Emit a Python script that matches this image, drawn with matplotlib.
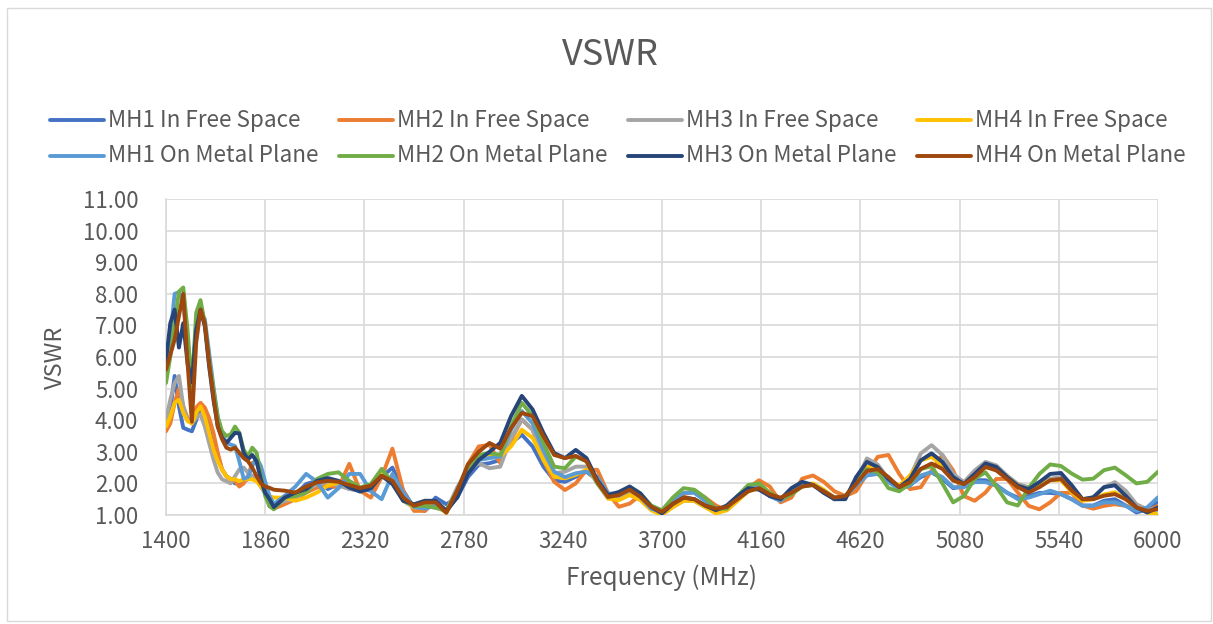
import numpy as np
import matplotlib
matplotlib.use("Agg")
import matplotlib.pyplot as plt
from matplotlib.lines import Line2D
from matplotlib.patches import Rectangle

plt.rcParams['font.family'] = ['Noto Sans CJK SC', 'DejaVu Sans']

# ---------------- data ----------------
freq_fine = list(range(1400, 1901, 20))      # 26 points
freq_coarse = list(range(1950, 6001, 50))    # 82 points
freq = np.array(freq_fine + freq_coarse)

mh1_free = [3.80, 4.33, 5.40, 4.44, 3.76, 3.70, 3.65, 4.00, 4.40, 4.28, 4.00, 3.50, 2.86,
            2.44, 2.23, 2.13, 2.00, 2.00, 2.07, 2.13, 2.23, 2.13, 1.90, 1.70, 1.40, 1.30,
            1.60, 1.66, 1.98, 2.08, 1.82, 1.98, 2.03, 1.82, 1.77, 2.20,
            2.50, 1.77, 1.23, 1.13, 1.55, 1.34, 1.55, 2.20, 2.59, 2.64,
            2.74, 3.28, 3.54, 3.17, 2.53, 2.10, 2.05, 2.21, 2.37, 2.10,
            1.63, 1.63, 1.79, 1.63, 1.26, 1.10, 1.35, 1.55, 1.50, 1.30,
            1.15, 1.20, 1.50, 1.80, 1.85, 1.60, 1.45, 1.70, 1.95, 1.95,
            1.75, 1.50, 1.55, 2.00, 2.35, 2.35, 2.10, 1.85, 1.95, 2.20,
            2.35, 2.15, 1.85, 1.90, 2.10, 2.10, 1.95, 1.70, 1.55, 1.60,
            1.70, 1.70, 1.66, 1.50, 1.30, 1.30, 1.45, 1.50, 1.30, 1.08,
            1.18, 1.40]

mh2_free = [3.65, 3.90, 4.55, 5.00, 4.44, 4.07, 3.90, 4.40, 4.55, 4.40, 4.07, 3.60, 2.97,
            2.44, 2.23, 2.13, 2.07, 1.90, 2.00, 2.23, 2.65, 2.70, 2.23, 1.70, 1.28, 1.20,
            1.34, 1.50, 1.71, 1.87, 1.93, 1.87, 2.62, 1.77, 1.55, 2.20,
            3.10, 1.77, 1.13, 1.13, 1.45, 1.13, 1.66, 2.60, 3.17, 3.22,
            2.64, 3.38, 4.02, 3.70, 2.74, 2.05, 1.79, 2.00, 2.43, 2.43,
            1.68, 1.26, 1.36, 1.63, 1.26, 1.05, 1.40, 1.65, 1.75, 1.55,
            1.30, 1.15, 1.45, 1.85, 2.10, 1.90, 1.40, 1.55, 2.15, 2.25,
            2.05, 1.75, 1.60, 1.75, 2.30, 2.84, 2.90, 2.30, 1.82, 1.88,
            2.41, 2.90, 2.41, 1.60, 1.45, 1.71, 2.14, 2.14, 1.71, 1.29,
            1.18, 1.40, 1.70, 1.70, 1.30, 1.20, 1.29, 1.34, 1.29, 1.24,
            1.13, 1.29]

mh3_free = [4.00, 4.65, 5.18, 5.40, 4.44, 4.00, 3.90, 4.07, 4.18, 3.80, 3.28, 2.76, 2.34,
            2.13, 2.07, 2.00, 2.23, 2.44, 2.50, 2.34, 2.23, 2.13, 1.90, 1.70, 1.50, 1.30,
            1.45, 1.50, 1.77, 1.98, 2.03, 1.93, 1.82, 1.77, 1.87, 2.30,
            2.03, 1.45, 1.23, 1.29, 1.23, 1.13, 1.87, 2.40, 2.64, 2.48,
            2.53, 3.44, 4.02, 3.70, 2.96, 2.32, 2.37, 2.53, 2.53, 2.00,
            1.52, 1.57, 1.73, 1.52, 1.20, 1.05, 1.25, 1.45, 1.45, 1.25,
            1.10, 1.20, 1.55, 1.80, 1.85, 1.60, 1.50, 1.75, 1.95, 1.95,
            1.75, 1.50, 1.55, 2.05, 2.79, 2.60, 2.14, 1.88, 2.20, 2.95,
            3.21, 2.90, 2.30, 2.04, 2.41, 2.68, 2.57, 2.25, 1.98, 1.88,
            2.04, 2.15, 2.20, 1.88, 1.50, 1.56, 1.88, 2.04, 1.77, 1.34,
            1.18, 1.18]

mh4_free = [3.80, 4.12, 4.55, 4.65, 4.23, 3.97, 3.90, 4.23, 4.44, 4.12, 3.60, 3.07, 2.70,
            2.44, 2.23, 2.13, 2.13, 2.07, 2.13, 2.13, 2.13, 2.07, 1.90, 1.75, 1.60, 1.55,
            1.55, 1.45, 1.55, 1.71, 1.93, 2.03, 1.98, 1.85, 1.93, 2.35,
            2.08, 1.50, 1.23, 1.23, 1.29, 1.07, 1.66, 2.40, 2.90, 2.85,
            2.85, 3.17, 3.70, 3.44, 2.74, 2.21, 2.16, 2.27, 2.43, 2.10,
            1.52, 1.47, 1.63, 1.47, 1.15, 1.00, 1.25, 1.45, 1.45, 1.25,
            1.05, 1.15, 1.45, 1.75, 1.85, 1.65, 1.50, 1.70, 1.95, 2.00,
            1.80, 1.55, 1.60, 2.04, 2.52, 2.52, 2.14, 1.93, 2.25, 2.73,
            2.84, 2.57, 2.14, 1.93, 2.25, 2.52, 2.46, 2.20, 1.93, 1.82,
            1.93, 2.10, 2.10, 1.72, 1.45, 1.50, 1.65, 1.72, 1.50, 1.24,
            1.08, 1.02]

mh1_metal = [5.28, 6.65, 8.00, 8.05, 7.80, 6.30, 5.28, 6.97, 7.40, 7.20, 6.13, 5.07, 4.10,
             3.55, 3.28, 3.23, 3.18, 2.70, 2.15, 2.20, 2.55, 2.80, 2.55, 2.05, 1.60, 1.35,
             1.60, 1.90, 2.30, 2.05, 1.55, 1.85, 2.30, 2.30, 1.75, 1.50,
             2.30, 1.70, 1.25, 1.20, 1.30, 1.10, 1.60, 2.30, 2.74, 2.80,
             2.85, 3.70, 4.29, 3.90, 3.06, 2.37, 2.20, 2.32, 2.37, 2.20,
             1.68, 1.68, 1.84, 1.57, 1.20, 1.10, 1.45, 1.70, 1.70, 1.45,
             1.20, 1.25, 1.55, 1.85, 1.95, 1.60, 1.45, 1.70, 1.95, 1.95,
             1.75, 1.55, 1.60, 1.93, 2.25, 2.30, 2.04, 1.82, 1.93, 2.25,
             2.36, 2.20, 1.88, 1.88, 2.04, 2.04, 1.93, 1.71, 1.50, 1.55,
             1.66, 1.77, 1.66, 1.50, 1.29, 1.29, 1.40, 1.40, 1.29, 1.13,
             1.24, 1.56]

mh2_metal = [5.18, 6.02, 7.07, 8.07, 8.20, 6.86, 5.00, 7.40, 7.80, 7.07, 5.90, 4.97, 4.10,
             3.65, 3.50, 3.55, 3.80, 3.60, 3.07, 2.86, 3.13, 2.97, 2.23, 1.60, 1.28, 1.18,
             1.55, 1.60, 1.71, 2.14, 2.30, 2.35, 2.08, 1.87, 1.98, 2.46,
             2.03, 1.45, 1.29, 1.29, 1.23, 1.15, 1.77, 2.50, 2.90, 2.96,
             2.90, 3.80, 4.55, 4.13, 3.28, 2.53, 2.48, 2.85, 2.70, 2.00,
             1.57, 1.68, 1.90, 1.68, 1.30, 1.15, 1.55, 1.85, 1.80, 1.55,
             1.20, 1.20, 1.60, 1.95, 2.00, 1.70, 1.50, 1.65, 1.90, 1.95,
             1.75, 1.50, 1.55, 2.10, 2.45, 2.35, 1.85, 1.75, 2.00, 2.45,
             2.55, 2.00, 1.40, 1.60, 2.15, 2.35, 1.90, 1.40, 1.30, 1.85,
             2.30, 2.60, 2.55, 2.31, 2.12, 2.15, 2.42, 2.50, 2.26, 2.00,
             2.05, 2.37]

mh3_metal = [5.90, 7.07, 7.50, 6.30, 7.07, 5.80, 5.20, 6.86, 7.50, 6.97, 5.70, 4.65, 3.80,
             3.44, 3.28, 3.44, 3.60, 3.58, 2.97, 2.76, 2.90, 2.70, 2.12, 1.70, 1.50, 1.25,
             1.55, 1.71, 1.82, 2.08, 2.17, 2.08, 1.87, 1.74, 1.85, 2.24,
             1.98, 1.45, 1.34, 1.45, 1.45, 1.13, 1.55, 2.30, 2.74, 3.00,
             3.28, 4.13, 4.77, 4.34, 3.60, 2.96, 2.80, 3.06, 2.80, 2.10,
             1.63, 1.73, 1.90, 1.68, 1.26, 1.05, 1.35, 1.55, 1.50, 1.30,
             1.15, 1.30, 1.60, 1.85, 1.80, 1.60, 1.50, 1.85, 2.05, 1.95,
             1.70, 1.50, 1.50, 2.20, 2.68, 2.52, 2.14, 1.88, 2.14, 2.73,
             2.95, 2.68, 2.20, 1.98, 2.30, 2.63, 2.52, 2.20, 1.93, 1.82,
             2.04, 2.30, 2.33, 1.94, 1.50, 1.56, 1.88, 1.94, 1.61, 1.24,
             1.08, 1.24]

mh4_metal = [5.60, 6.07, 6.55, 7.30, 8.00, 5.80, 3.95, 6.45, 7.50, 7.07, 5.80, 4.75, 3.80,
             3.40, 3.13, 3.07, 3.13, 2.97, 2.80, 2.70, 2.50, 2.23, 2.00, 1.90, 1.86, 1.80,
             1.77, 1.71, 1.90, 2.03, 2.08, 2.05, 1.95, 1.85, 1.93, 2.24,
             2.08, 1.55, 1.29, 1.40, 1.40, 1.07, 1.77, 2.60, 3.00, 3.28,
             3.10, 3.75, 4.23, 4.13, 3.49, 2.90, 2.80, 2.87, 2.70, 2.05,
             1.57, 1.63, 1.80, 1.57, 1.26, 1.10, 1.35, 1.55, 1.50, 1.30,
             1.20, 1.25, 1.50, 1.75, 1.85, 1.65, 1.55, 1.70, 1.90, 1.95,
             1.75, 1.55, 1.60, 1.98, 2.40, 2.45, 2.20, 1.88, 2.04, 2.46,
             2.63, 2.46, 2.09, 1.98, 2.20, 2.52, 2.41, 2.14, 1.88, 1.71,
             1.88, 2.10, 2.14, 1.77, 1.50, 1.50, 1.61, 1.66, 1.50, 1.24,
             1.13, 1.18]

series_names = ["MH1 In Free Space", "MH2 In Free Space", "MH3 In Free Space", "MH4 In Free Space",
                "MH1 On Metal Plane", "MH2 On Metal Plane", "MH3 On Metal Plane", "MH4 On Metal Plane"]
series_values = [mh1_free, mh2_free, mh3_free, mh4_free,
                 mh1_metal, mh2_metal, mh3_metal, mh4_metal]
series_colors = ["#4472C4", "#ED7D31", "#A5A5A5", "#FFC000",
                 "#5B9BD5", "#70AD47", "#264478", "#9E480E"]

x_ticks = [1400, 1860, 2320, 2780, 3240, 3700, 4160, 4620, 5080, 5540, 6000]
y_ticks = [1, 2, 3, 4, 5, 6, 7, 8, 9, 10, 11]

for v in series_values:
    assert len(v) == len(freq), len(v)

# ---------------- figure ----------------
W, H = 1213, 624
fig = plt.figure(figsize=(W / 100, H / 100), dpi=100)
TXT = "#595959"
GRID = "#D9D9D9"

def fx(px):
    return px / W

def fy(py):
    return 1 - py / H

fig.add_artist(Rectangle((fx(7), fy(621)), fx(1211) - fx(7), fy(8) - fy(621),
                         transform=fig.transFigure, fill=False, edgecolor=GRID, linewidth=1.0))

ax = fig.add_axes([fx(166), fy(515), fx(1158) - fx(166), fy(199) - fy(515)])
for name, vals, col in zip(series_names, series_values, series_colors):
    ax.plot(freq, vals, color=col, linewidth=2.8, solid_joinstyle="round",
            solid_capstyle="round", label=name, zorder=3)

ax.set_xlim(1400, 6000)
ax.set_ylim(1, 11)
ax.set_xticks(x_ticks)
ax.set_xticklabels([str(t) for t in x_ticks])
ax.set_yticks(y_ticks)
ax.set_yticklabels([f"{t:.2f}" for t in y_ticks])
ax.tick_params(axis="both", length=0, labelsize=16, labelcolor=TXT)
ax.tick_params(axis="y", pad=20)
ax.tick_params(axis="x", pad=11)
ax.grid(True, color=GRID, linewidth=1.2, zorder=0)
ax.set_axisbelow(True)
for s in ["top", "right"]:
    ax.spines[s].set_visible(False)
for s in ["left", "bottom"]:
    ax.spines[s].set_color(GRID)
    ax.spines[s].set_linewidth(1.2)

fig.text(fx(610), fy(55), "VSWR", ha="center", va="center", fontsize=26, color=TXT)
fig.text(fx(55), fy(357), "VSWR", ha="center", va="center", rotation=90, fontsize=17, color=TXT)
fig.text(fx(661), fy(578), "Frequency (MHz)", ha="center", va="center", fontsize=17.5, color=TXT)

# legend (2 rows x 4 columns)
for i, (name, col) in enumerate(zip(series_names, series_colors)):
    c, r = i % 4, i // 4
    x0 = 50 + c * 289
    y0 = 120 + r * 36
    fig.add_artist(Line2D([fx(x0), fx(x0 + 54)], [fy(y0), fy(y0)], transform=fig.transFigure,
                          color=col, linewidth=2.8, solid_capstyle="round"))
    fig.text(fx(x0 + 58), fy(y0), name, ha="left", va="center", fontsize=16.2, color=TXT)

fig.savefig("out.png", dpi=100)
